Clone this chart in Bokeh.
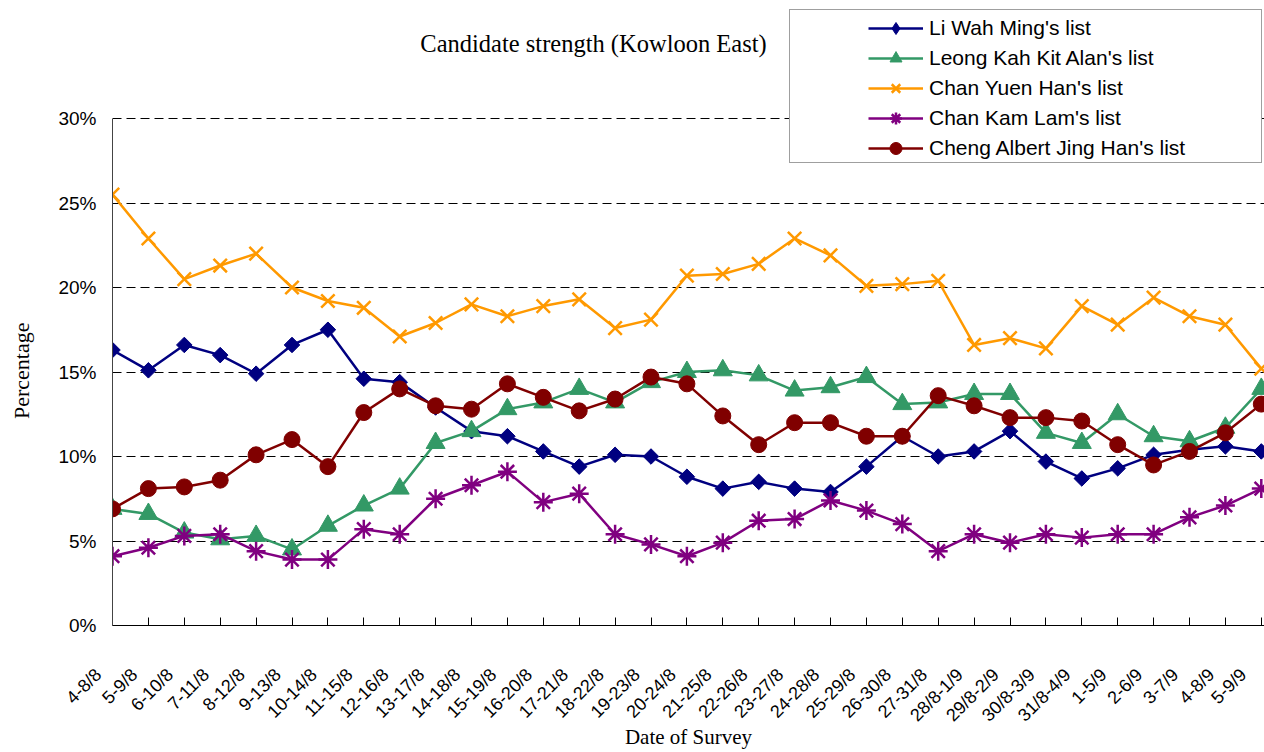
import math
from bokeh.plotting import figure
from bokeh.models import (Range1d, FixedTicker, PrintfTickFormatter, Legend, LegendItem, Label)
from bokeh.embed import file_html
from bokeh.resources import INLINE

dates = ["4-8/8", "5-9/8", "6-10/8", "7-11/8", "8-12/8", "9-13/8", "10-14/8", "11-15/8",
         "12-16/8", "13-17/8", "14-18/8", "15-19/8", "16-20/8", "17-21/8", "18-22/8",
         "19-23/8", "20-24/8", "21-25/8", "22-26/8", "23-27/8", "24-28/8", "25-29/8",
         "26-30/8", "27-31/8", "28/8-1/9", "29/8-2/9", "30/8-3/9", "31/8-4/9", "1-5/9",
         "2-6/9", "3-7/9", "4-8/9", "5-9/9"]

li_wah_ming = [16.3, 15.1, 16.6, 16.0, 14.9, 16.6, 17.5, 14.6, 14.4, 12.9, 11.5, 11.2, 10.3,
               9.4, 10.1, 10.0, 8.8, 8.1, 8.5, 8.1, 7.9, 9.4, 11.2, 10.0, 10.3, 11.5, 9.7,
               8.7, 9.3, 10.1, 10.4, 10.6, 10.3]
leong_kah_kit = [6.9, 6.6, 5.5, 5.1, 5.3, 4.5, 5.9, 7.1, 8.1, 10.8, 11.5, 12.8, 13.2, 14.0,
                 13.2, 14.4, 15.0, 15.1, 14.8, 13.9, 14.1, 14.7, 13.1, 13.2, 13.7, 13.7,
                 11.4, 10.8, 12.5, 11.2, 10.9, 11.7, 14.0]
chan_yuen_han = [25.5, 22.9, 20.5, 21.3, 22.0, 20.0, 19.2, 18.8, 17.1, 17.9, 19.0, 18.3, 18.9,
                 19.3, 17.6, 18.1, 20.7, 20.8, 21.4, 22.9, 21.9, 20.1, 20.2, 20.4, 16.6,
                 17.0, 16.4, 18.9, 17.8, 19.4, 18.3, 17.8, 15.2]
chan_kam_lam = [4.1, 4.6, 5.3, 5.4, 4.4, 3.9, 3.9, 5.7, 5.4, 7.5, 8.3, 9.1, 7.3, 7.8, 5.4,
                4.8, 4.1, 4.9, 6.2, 6.3, 7.4, 6.8, 6.0, 4.4, 5.4, 4.9, 5.4, 5.2, 5.4, 5.4,
                6.4, 7.1, 8.1]
cheng_albert = [6.9, 8.1, 8.2, 8.6, 10.1, 11.0, 9.4, 12.6, 14.0, 13.0, 12.8, 14.3, 13.5,
                12.7, 13.4, 14.7, 14.3, 12.4, 10.7, 12.0, 12.0, 11.2, 11.2, 13.6, 13.0,
                12.3, 12.3, 12.1, 10.7, 9.5, 10.3, 11.4, 13.1]

series_names = ["Li Wah Ming's list", "Leong Kah Kit Alan's list", "Chan Yuen Han's list",
                "Chan Kam Lam's list", "Cheng Albert Jing Han's list"]
y_ticks = [0, 5, 10, 15, 20, 25, 30]

x = list(range(len(dates)))
NB = "\u00a0"

W, H = 1264, 752
frame_left, frame_bottom = 112, 625
y_top = 30 * frame_bottom / 507.0          # frame reaches the top of the canvas
x_end = (W - frame_left) / 35.9

p = figure(width=W, height=H, output_backend="svg", toolbar_location=None,
           x_range=Range1d(0, x_end), y_range=Range1d(0, y_top),
           min_border_left=frame_left, min_border_right=0, min_border_top=0,
           min_border_bottom=H - frame_bottom)
p.outline_line_color = None
p.background_fill_color = "white"

# axes
xa = p.xaxis[0]
xa.ticker = FixedTicker(ticks=x)
xa.major_label_overrides = {i: d + NB * 4 for i, d in enumerate(dates)}
xa.major_label_orientation = math.pi / 4
xa.major_label_text_font = "Liberation Sans"
xa.major_label_text_font_size = "18px"
xa.major_label_text_color = "black"
xa.major_label_standoff = 32
xa.major_tick_in = 8
xa.major_tick_out = 0
xa.minor_tick_line_color = None
xa.axis_line_color = "black"
xa.major_tick_line_color = "black"
xa.axis_label = "Date of Survey"
xa.axis_label_text_font = "Liberation Serif"
xa.axis_label_text_font_style = "normal"
xa.axis_label_text_font_size = "21px"
xa.axis_label_text_color = "black"
xa.axis_label_standoff = -10

ya = p.yaxis[0]
ya.ticker = FixedTicker(ticks=y_ticks)
ya.bounds = (0, 30)
ya.formatter = PrintfTickFormatter(format="%d%%")
ya.major_label_text_font = "Liberation Sans"
ya.major_label_text_font_size = "19px"
ya.major_label_text_color = "black"
ya.major_label_standoff = 16
ya.major_tick_in = 0
ya.major_tick_out = 0
ya.minor_tick_line_color = None
ya.axis_line_color = "#444444"
ya.axis_label = "Percentage" + NB * 21
ya.axis_label_text_font = "Liberation Serif"
ya.axis_label_text_font_style = "normal"
ya.axis_label_text_font_size = "22px"
ya.axis_label_text_color = "black"
ya.axis_label_standoff = 21

p.xgrid.grid_line_color = None
p.ygrid.ticker = FixedTicker(ticks=y_ticks)
p.ygrid.grid_line_color = "black"
p.ygrid.grid_line_dash = "9 5"
p.ygrid.grid_line_width = 1

# invisible renderer used only for the legend frame
dummy = p.line(x=[0, 0], y=[0, 0], line_alpha=0)

colors = ["#000080", "#339966", "#FF9900", "#800080", "#800000"]
series = [li_wah_ming, leong_kah_kit, chan_yuen_han, chan_kam_lam, cheng_albert]
plot_markers = [dict(marker="square", size=11, angle=math.pi / 4),
                dict(marker="triangle", size=19),
                dict(marker="x", size=19, line_width=2.5),
                dict(marker="asterisk", size=19, line_width=2.5),
                dict(marker="circle", size=16)]

items = []
for i, (name, vals, col, mk) in enumerate(zip(series_names, series, colors, plot_markers)):
    ln = p.line(x, vals, line_color=col, line_width=2.5)
    if i == 0:
        # diamond (used by the legend) lies inside the rotated square drawn on top
        sc_leg = p.scatter(x, vals, marker="diamond", size=14, line_color=col, fill_color=col)
        p.scatter(x, vals, line_color=col, fill_color=col, **mk)
        items.append(LegendItem(label=name, renderers=[ln, sc_leg]))
    else:
        sc = p.scatter(x, vals, line_color=col, fill_color=col, **mk)
        items.append(LegendItem(label=name, renderers=[ln, sc]))

# frame box of the legend
box = Legend(items=[LegendItem(label=" ", renderers=[dummy])], location=(677, 462),
             padding=0, margin=0, spacing=0, glyph_width=1, glyph_height=152,
             label_height=152, label_width=470, label_standoff=0,
             label_text_alpha=0, border_line_color="#404040", border_line_width=1,
             background_fill_color="white", background_fill_alpha=1)
p.add_layout(box)

leg = Legend(items=items, location=(756, 462), padding=0, margin=0, spacing=0,
             glyph_width=55, glyph_height=30, label_height=30, label_standoff=6,
             label_text_font="Liberation Sans", label_text_font_size="21px",
             label_text_color="black", border_line_alpha=0, background_fill_alpha=0)
p.add_layout(leg)

title = Label(x=481, y=582, x_units="screen", y_units="screen",
              text="Candidate strength (Kowloon East)", text_align="center",
              text_baseline="middle", text_font="Liberation Serif",
              text_font_size="24.5px", text_color="black")
p.add_layout(title)

open("out.html", "w").write(file_html(p, INLINE))
